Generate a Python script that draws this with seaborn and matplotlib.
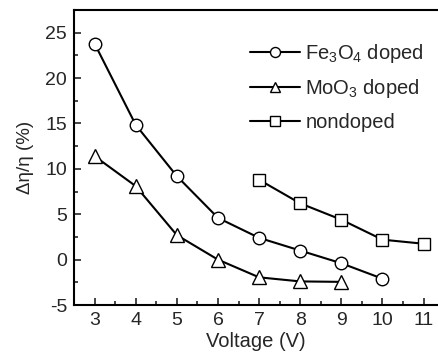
import matplotlib
matplotlib.use("Agg")
import matplotlib.pyplot as plt
import seaborn as sns
import pandas as pd
from matplotlib.ticker import MultipleLocator

sns.set_style("ticks")
plt.rcParams['font.family'] = ['Liberation Sans', 'DejaVu Sans']
plt.rcParams['mathtext.fontset'] = 'custom'
plt.rcParams['mathtext.rm'] = 'Liberation Sans'
plt.rcParams['mathtext.it'] = 'Liberation Sans:italic'
plt.rcParams['axes.unicode_minus'] = False

fe_x = [3, 4, 5, 6, 7, 8, 9, 10]
fe_y = [23.8, 14.85, 9.2, 4.6, 2.4, 1.0, -0.4, -2.1]
mo_x = [3, 4, 5, 6, 7, 8, 9]
mo_y = [11.4, 8.1, 2.7, 0.0, -1.95, -2.4, -2.45]
nd_x = [7, 8, 9, 10, 11]
nd_y = [8.8, 6.2, 4.4, 2.2, 1.75]

labels = ["Fe$_3$O$_4$ doped", "MoO$_3$ doped", "nondoped"]
markers = ["o", "^", "s"]
msizes = [9, 9.5, 8.5]

fig = plt.figure(figsize=(4.38, 3.58), dpi=100)
ax = fig.add_axes([0.169, 0.148, 0.831, 0.824])

for xs, ys, lab, mk, ms in zip([fe_x, mo_x, nd_x], [fe_y, mo_y, nd_y], labels, markers, msizes):
    df = pd.DataFrame({"x": xs, "y": ys})
    sns.lineplot(data=df, x="x", y="y", ax=ax, color="black", linewidth=1.5,
                 marker=mk, markersize=ms, markerfacecolor="white",
                 markeredgecolor="black", markeredgewidth=1.0, label=lab)

ax.set_xlim(2.5, 11.35)
ax.set_ylim(-5, 27.5)
ax.xaxis.set_major_locator(MultipleLocator(1))
ax.xaxis.set_minor_locator(MultipleLocator(0.5))
ax.yaxis.set_major_locator(MultipleLocator(5))
ax.yaxis.set_minor_locator(MultipleLocator(2.5))
ax.tick_params(which="both", direction="in", top=False, right=False, labelsize=14, width=1.2)
ax.tick_params(which="major", length=5, pad=5)
ax.tick_params(which="minor", length=3)
for s in ["left", "bottom", "top"]:
    ax.spines[s].set_linewidth(1.5)
    ax.spines[s].set_color("black")
ax.spines["right"].set_visible(False)
ax.spines["top"].set_visible(True)

ax.set_xlabel("Voltage (V)", fontsize=14.5, labelpad=2)
ax.set_ylabel("Δη/η (%)", fontsize=13.5, labelpad=8)

leg = ax.legend(loc="upper right", bbox_to_anchor=(1.0, 0.94), frameon=False, fontsize=14.5,
                handlelength=2.5, labelspacing=0.62, handletextpad=0.25, markerscale=0.8,
                borderaxespad=0.3)

fig.savefig("out.png", dpi=100)
